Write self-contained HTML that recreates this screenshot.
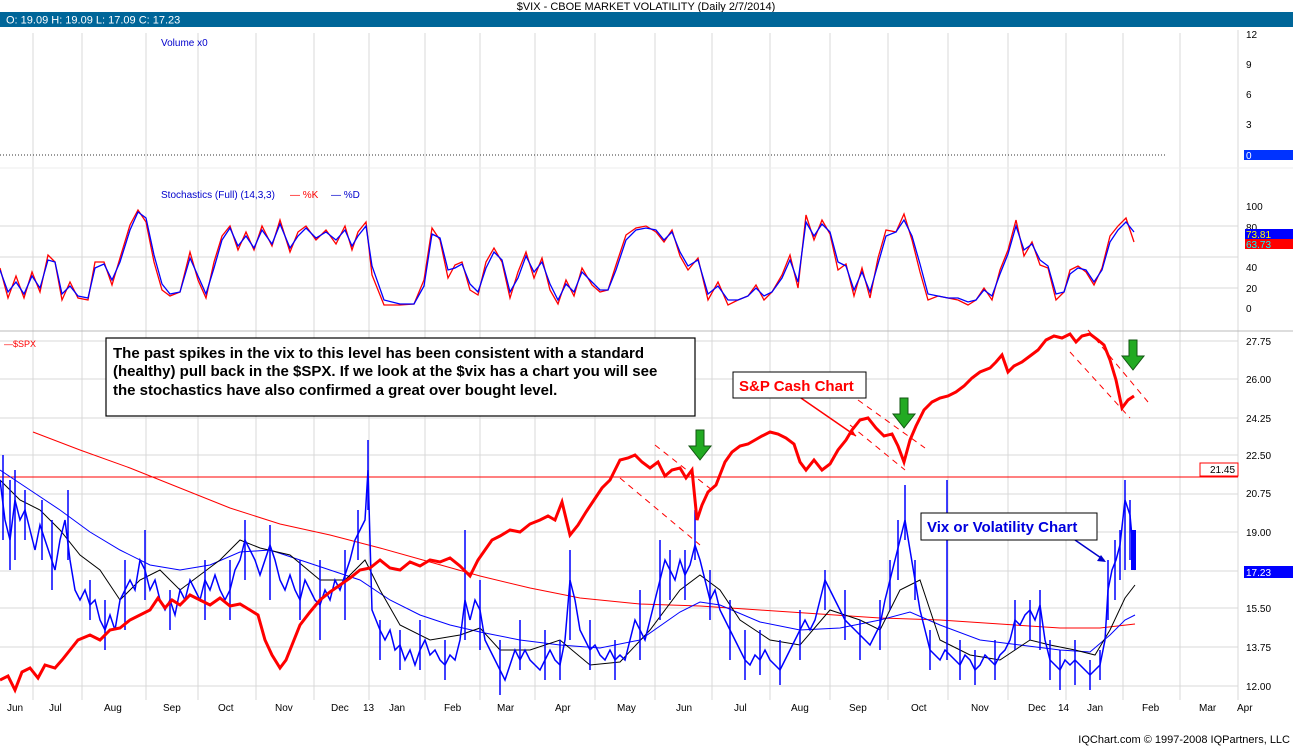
<!DOCTYPE html>
<html><head><meta charset="utf-8"><style>
body{margin:0;background:#fff;width:1293px;height:748px;overflow:hidden;font-family:"Liberation Sans",Arial,sans-serif}
svg{position:absolute;left:0;top:0}
</style></head><body>
<svg width="1293" height="748" viewBox="0 0 1293 748" font-family="Liberation Sans, Arial, sans-serif">
<rect width="1293" height="748" fill="#fff"/>
<text x="646" y="10" font-size="11" text-anchor="middle" fill="#000">$VIX - CBOE MARKET VOLATILITY (Daily 2/7/2014)</text>
<rect x="0" y="12" width="1293" height="15" fill="#006699"/>
<text x="6" y="23.5" font-size="11" fill="#fff">O: 19.09  H: 19.09  L: 17.09  C: 17.23</text>
<!-- vertical grid -->
<g stroke="#d8d8d8" stroke-width="1">
<line x1="33" y1="33" x2="33" y2="700"/><line x1="82" y1="33" x2="82" y2="700"/><line x1="146" y1="33" x2="146" y2="700"/><line x1="198" y1="33" x2="198" y2="700"/><line x1="256" y1="33" x2="256" y2="700"/><line x1="314" y1="33" x2="314" y2="700"/><line x1="369" y1="33" x2="369" y2="700"/><line x1="425" y1="33" x2="425" y2="700"/><line x1="480" y1="33" x2="480" y2="700"/><line x1="535" y1="33" x2="535" y2="700"/><line x1="595" y1="33" x2="595" y2="700"/><line x1="655" y1="33" x2="655" y2="700"/><line x1="712" y1="33" x2="712" y2="700"/><line x1="770" y1="33" x2="770" y2="700"/><line x1="830" y1="33" x2="830" y2="700"/><line x1="888" y1="33" x2="888" y2="700"/><line x1="948" y1="33" x2="948" y2="700"/><line x1="1008" y1="33" x2="1008" y2="700"/><line x1="1066" y1="33" x2="1066" y2="700"/><line x1="1123" y1="33" x2="1123" y2="700"/><line x1="1180" y1="33" x2="1180" y2="700"/>
<line x1="1238" y1="30" x2="1238" y2="700"/>
<line x1="0" y1="226" x2="1238" y2="226"/><line x1="0" y1="257" x2="1238" y2="257"/><line x1="0" y1="288" x2="1238" y2="288"/>
<line x1="0" y1="341" x2="1238" y2="341"/><line x1="0" y1="379" x2="1238" y2="379"/><line x1="0" y1="418" x2="1238" y2="418"/><line x1="0" y1="455" x2="1238" y2="455"/><line x1="0" y1="494" x2="1238" y2="494"/><line x1="0" y1="532" x2="1238" y2="532"/><line x1="0" y1="571" x2="1238" y2="571"/><line x1="0" y1="608" x2="1238" y2="608"/><line x1="0" y1="647" x2="1238" y2="647"/><line x1="0" y1="686" x2="1238" y2="686"/>
</g>
<line x1="0" y1="331" x2="1293" y2="331" stroke="#bbb"/>
<line x1="0" y1="168" x2="1293" y2="168" stroke="#eee"/>
<!-- volume panel -->
<text x="161" y="46" font-size="10" fill="#0000cc">Volume x0</text>
<line x1="0" y1="155" x2="1165" y2="155" stroke="#333" stroke-dasharray="1,2"/>
<g font-size="10" fill="#000"><text x="1246" y="38">12</text><text x="1246" y="68">9</text><text x="1246" y="98">6</text><text x="1246" y="128">3</text></g>
<rect x="1244" y="150" width="49" height="10" fill="#0033ff"/><text x="1246" y="159" font-size="10" fill="#fff">0</text>
<!-- stochastics -->
<text x="161" y="198" font-size="10" fill="#0000cc">Stochastics (Full) (14,3,3)</text>
<text x="290" y="198" font-size="10" fill="#ff0000">— %K</text><text x="331" y="198" font-size="10" fill="#0000cc">— %D</text>
<g font-size="10" fill="#000"><text x="1246" y="210">100</text><text x="1246" y="231">80</text><text x="1246" y="271">40</text><text x="1246" y="292">20</text><text x="1246" y="312">0</text></g>
<rect x="1245" y="229" width="48" height="10" fill="#0000ff"/><text x="1246" y="238" font-size="10" fill="#ffff00">73.81</text>
<rect x="1245" y="239" width="48" height="10" fill="#ff0000"/><text x="1246" y="248" font-size="10" fill="#00ffff">63.73</text>
<polyline fill="none" stroke="#ff0000" stroke-width="1.3" points="0,268 8,298 16,276 24,298 32,272 40,292 48,255 55,262 62,300 70,282 78,298 88,300 95,262 104,262 112,285 120,258 130,225 138,210 146,222 154,262 162,290 170,296 180,292 190,252 198,280 206,298 214,262 222,236 230,226 238,250 246,232 254,250 262,226 272,246 280,220 290,252 298,232 306,226 316,240 326,230 336,244 345,226 352,250 358,232 366,222 372,275 384,305 400,305 414,304 424,280 432,228 440,240 448,278 455,265 462,262 470,290 478,295 486,262 494,248 502,262 510,298 518,272 526,252 534,278 542,258 550,290 558,304 566,280 574,296 582,268 592,285 600,292 608,290 616,265 626,235 636,228 646,226 656,232 664,242 672,230 680,256 688,270 698,258 708,300 718,282 728,305 738,300 748,296 756,285 764,300 772,292 782,275 790,255 798,288 806,215 814,240 822,220 830,234 838,270 846,264 854,296 862,268 870,298 878,258 886,230 896,232 904,214 912,240 920,272 928,300 938,296 948,298 958,300 968,305 976,300 984,288 992,300 1000,270 1008,250 1016,220 1024,256 1032,242 1040,265 1048,268 1056,300 1064,292 1070,270 1078,266 1086,272 1094,285 1102,268 1110,236 1118,226 1126,218 1134,242"/>
<polyline fill="none" stroke="#0000ff" stroke-width="1.3" points="0,270 8,292 16,282 24,294 32,276 40,288 48,260 55,262 62,294 70,286 78,296 88,298 95,268 104,264 112,280 120,262 130,230 138,212 146,218 154,255 162,284 170,294 180,292 190,258 198,276 206,294 214,268 222,240 230,228 238,246 246,236 254,248 262,230 272,244 280,224 290,248 298,236 306,228 316,238 326,232 336,240 345,230 352,246 358,236 366,226 372,266 384,300 400,304 414,304 424,286 432,234 440,238 448,270 455,268 462,264 470,284 478,292 486,268 494,252 502,260 510,292 518,278 526,256 534,272 542,262 550,284 558,300 566,284 574,292 582,272 592,282 600,290 608,290 616,270 626,240 636,230 646,228 656,230 664,240 672,232 680,252 688,266 698,260 708,294 718,286 728,300 738,300 748,296 756,288 764,296 772,292 782,278 790,260 798,282 806,222 814,236 822,224 830,232 838,262 846,266 854,290 862,272 870,292 878,264 886,236 896,232 904,220 912,236 920,264 928,294 938,296 948,298 958,298 968,302 976,300 984,290 992,296 1000,274 1008,254 1016,226 1024,250 1032,244 1040,260 1048,266 1056,294 1064,292 1070,274 1078,268 1086,270 1094,282 1102,270 1110,242 1118,230 1126,222 1134,232"/>
<!-- main panel -->
<text x="4" y="347" font-size="9" fill="#ff0000">—$SPX</text>
<g font-size="10" fill="#000"><text x="1246" y="345">27.75</text><text x="1246" y="383">26.00</text><text x="1246" y="422">24.25</text><text x="1246" y="459">22.50</text><text x="1246" y="497">20.75</text><text x="1246" y="536">19.00</text><text x="1246" y="612">15.50</text><text x="1246" y="651">13.75</text><text x="1246" y="690">12.00</text></g>
<line x1="0" y1="477" x2="1238" y2="477" stroke="#ff0000" stroke-width="1"/>
<rect x="1200" y="463" width="38" height="13" fill="#fff" stroke="#ff0000"/><text x="1210" y="473" font-size="10" fill="#000">21.45</text>
<rect x="1244" y="566" width="49" height="12" fill="#0000ff"/><text x="1246" y="576" font-size="10" fill="#fff">17.23</text>
<!-- 200MA -->
<polyline fill="none" stroke="#ff0000" stroke-width="1" points="33,432 80,450 130,468 180,488 230,508 280,524 330,535 380,548 430,562 480,576 530,588 580,598 640,604 700,606 760,610 820,614 880,618 940,620 1000,624 1060,628 1100,628 1135,624"/>
<!-- 50MA blue -->
<polyline fill="none" stroke="#0000ff" stroke-width="1" points="0,470 30,490 60,510 90,532 120,550 150,565 180,570 210,565 240,552 270,550 300,560 330,570 360,580 390,600 420,615 450,625 480,632 520,640 560,645 600,648 640,640 680,612 700,602 720,605 760,622 800,630 840,628 880,620 910,612 940,625 980,640 1020,645 1060,650 1090,652 1110,635 1125,620 1135,615"/>
<!-- 20MA black -->
<polyline fill="none" stroke="#000" stroke-width="1" points="0,480 20,500 40,510 60,530 80,555 100,570 120,600 140,580 160,570 180,590 200,575 220,560 240,540 260,548 290,555 320,580 345,580 365,560 380,590 400,625 430,640 460,635 480,628 500,650 530,650 560,640 590,665 620,662 650,630 680,590 700,575 720,590 740,620 770,640 800,645 830,610 860,620 880,630 900,590 920,580 940,640 970,655 1000,660 1030,640 1050,645 1075,650 1095,655 1110,630 1125,598 1135,585"/>
<!-- VIX candles approx -->
<g stroke="#0000ff" stroke-width="1.5">
<line x1="3" y1="455" x2="3" y2="540"/><line x1="10" y1="480" x2="10" y2="570"/><line x1="15" y1="470" x2="15" y2="560"/><line x1="25" y1="490" x2="25" y2="540"/><line x1="42" y1="500" x2="42" y2="560"/><line x1="52" y1="520" x2="52" y2="590"/><line x1="68" y1="490" x2="68" y2="560"/><line x1="90" y1="580" x2="90" y2="620"/><line x1="105" y1="600" x2="105" y2="650"/><line x1="125" y1="560" x2="125" y2="630"/><line x1="145" y1="530" x2="145" y2="600"/><line x1="170" y1="590" x2="170" y2="630"/><line x1="205" y1="560" x2="205" y2="620"/><line x1="230" y1="560" x2="230" y2="620"/><line x1="245" y1="520" x2="245" y2="580"/><line x1="270" y1="525" x2="270" y2="600"/><line x1="300" y1="560" x2="300" y2="620"/><line x1="320" y1="560" x2="320" y2="640"/><line x1="345" y1="550" x2="345" y2="620"/><line x1="358" y1="510" x2="358" y2="560"/><line x1="368" y1="440" x2="368" y2="510"/><line x1="380" y1="620" x2="380" y2="660"/><line x1="400" y1="630" x2="400" y2="670"/><line x1="420" y1="620" x2="420" y2="670"/><line x1="445" y1="640" x2="445" y2="680"/><line x1="465" y1="530" x2="465" y2="640"/><line x1="480" y1="580" x2="480" y2="650"/><line x1="500" y1="640" x2="500" y2="695"/><line x1="520" y1="620" x2="520" y2="670"/><line x1="545" y1="630" x2="545" y2="680"/><line x1="560" y1="640" x2="560" y2="680"/><line x1="570" y1="550" x2="570" y2="640"/><line x1="590" y1="620" x2="590" y2="670"/><line x1="615" y1="640" x2="615" y2="680"/><line x1="640" y1="590" x2="640" y2="660"/><line x1="660" y1="540" x2="660" y2="620"/><line x1="670" y1="550" x2="670" y2="600"/><line x1="685" y1="550" x2="685" y2="600"/><line x1="695" y1="510" x2="695" y2="560"/><line x1="710" y1="570" x2="710" y2="620"/><line x1="730" y1="600" x2="730" y2="660"/><line x1="745" y1="630" x2="745" y2="680"/><line x1="760" y1="630" x2="760" y2="675"/><line x1="780" y1="640" x2="780" y2="685"/><line x1="800" y1="610" x2="800" y2="660"/><line x1="825" y1="570" x2="825" y2="610"/><line x1="845" y1="590" x2="845" y2="640"/><line x1="860" y1="620" x2="860" y2="660"/><line x1="880" y1="600" x2="880" y2="650"/><line x1="890" y1="560" x2="890" y2="610"/><line x1="898" y1="520" x2="898" y2="580"/><line x1="905" y1="485" x2="905" y2="540"/><line x1="915" y1="560" x2="915" y2="600"/><line x1="930" y1="630" x2="930" y2="670"/><line x1="947" y1="480" x2="947" y2="660"/><line x1="960" y1="640" x2="960" y2="680"/><line x1="975" y1="650" x2="975" y2="685"/><line x1="995" y1="640" x2="995" y2="680"/><line x1="1015" y1="600" x2="1015" y2="650"/><line x1="1030" y1="600" x2="1030" y2="640"/><line x1="1040" y1="590" x2="1040" y2="650"/><line x1="1050" y1="640" x2="1050" y2="680"/><line x1="1060" y1="650" x2="1060" y2="690"/><line x1="1075" y1="640" x2="1075" y2="685"/><line x1="1090" y1="660" x2="1090" y2="690"/><line x1="1100" y1="650" x2="1100" y2="680"/><line x1="1108" y1="560" x2="1108" y2="620"/><line x1="1115" y1="540" x2="1115" y2="600"/><line x1="1120" y1="530" x2="1120" y2="580"/><line x1="1125" y1="480" x2="1125" y2="570"/><line x1="1130" y1="500" x2="1130" y2="560"/>
</g>
<rect x="1131" y="530" width="5" height="40" fill="#0000ff"/>
<polyline fill="none" stroke="#0000ff" stroke-width="1.5" points="0,480 5,520 10,540 15,500 20,520 25,510 30,530 35,550 40,525 45,540 50,555 55,570 60,540 65,520 70,560 75,590 80,600 85,590 90,605 95,600 100,620 105,630 110,615 115,630 120,600 125,590 130,580 135,590 140,560 145,570 150,590 155,580 160,600 165,610 170,600 175,615 180,590 185,600 190,580 195,590 200,600 205,580 210,590 215,575 220,590 225,600 230,590 235,570 240,560 245,540 250,550 255,560 260,575 265,560 270,545 275,560 280,580 285,590 290,575 295,590 300,600 305,580 310,590 315,600 320,605 325,590 330,600 335,580 340,590 345,575 350,560 355,540 360,530 365,520 368,470 372,610 380,630 385,640 390,630 395,650 400,645 405,660 410,650 415,665 420,650 425,640 430,655 435,650 440,660 445,665 450,655 455,660 460,640 465,600 470,620 475,600 480,610 485,640 490,650 495,660 500,670 505,680 510,665 515,650 520,660 525,650 530,660 535,665 540,670 545,660 550,650 555,660 560,665 565,640 570,580 575,600 580,630 585,640 590,650 595,645 600,655 605,660 610,650 615,660 620,655 625,660 630,640 635,620 640,630 645,640 650,620 655,600 660,580 665,560 670,570 675,580 680,560 685,575 690,565 695,545 700,560 705,580 710,600 715,590 720,610 725,620 730,630 735,640 740,650 745,660 750,665 755,655 760,660 765,650 770,660 775,665 780,670 785,660 790,650 795,640 800,630 805,620 810,630 815,620 820,600 825,580 830,590 835,600 840,610 845,620 850,625 855,630 860,635 865,640 870,645 875,635 880,625 885,600 890,580 895,560 900,540 905,520 910,550 915,580 920,610 925,630 930,650 935,655 940,660 945,650 950,655 955,660 960,665 965,655 970,660 975,670 980,665 985,655 990,660 995,665 1000,655 1005,650 1010,640 1015,620 1020,625 1025,615 1030,610 1035,620 1040,605 1045,640 1050,660 1055,665 1060,670 1065,660 1070,665 1075,660 1080,665 1085,670 1090,675 1095,670 1100,665 1105,640 1108,590 1112,570 1116,560 1120,545 1125,500 1130,515 1135,570"/>
<!-- SPX -->
<polyline fill="none" stroke="#ff0000" stroke-width="3" points="0,680 8,676 15,690 22,672 30,668 38,678 45,665 55,668 62,660 70,650 78,640 90,635 100,640 110,630 120,628 130,620 140,615 150,610 158,598 165,608 172,600 180,605 190,595 200,600 210,605 220,598 230,606 240,604 250,610 258,615 265,640 272,655 280,668 286,660 292,645 300,625 310,612 320,600 330,592 340,585 350,578 360,570 370,568 380,560 390,568 400,570 410,562 420,566 430,560 440,562 450,558 460,566 470,576 478,560 485,550 492,540 500,536 510,530 520,532 530,524 540,520 548,516 555,520 562,502 570,535 578,525 586,512 594,500 602,488 610,480 620,460 628,458 635,455 642,462 650,468 658,462 665,476 672,470 680,468 686,478 692,470 697,520 702,505 708,492 716,485 725,462 732,452 740,446 748,444 755,440 762,436 770,432 778,434 786,438 794,444 800,462 806,470 814,460 822,470 830,464 838,450 846,440 852,430 860,420 868,418 876,428 884,436 892,434 898,446 904,462 910,440 916,426 924,410 932,402 940,398 948,396 956,392 964,386 972,378 980,372 990,368 996,362 1002,355 1008,372 1014,366 1022,362 1030,356 1038,350 1046,340 1054,336 1062,338 1070,334 1076,342 1082,336 1090,334 1098,340 1104,345 1110,360 1116,380 1122,408 1128,400 1134,396"/>
<!-- channels -->
<g stroke="#ff0000" stroke-dasharray="6,5" fill="none">
<line x1="655" y1="445" x2="712" y2="490"/><line x1="620" y1="478" x2="700" y2="545"/>
<line x1="858" y1="400" x2="925" y2="448"/><line x1="850" y1="425" x2="905" y2="470"/>
<line x1="1088" y1="330" x2="1148" y2="402"/><line x1="1070" y1="352" x2="1130" y2="418"/>
</g>
<!-- arrows -->
<g fill="#22aa22" stroke="#115511" stroke-width="1">
<path d="M696,430 h8 v16 h7 l-11,14 l-11,-14 h7z"/>
<path d="M900,398 h8 v16 h7 l-11,14 l-11,-14 h7z"/>
<path d="M1129,340 h8 v16 h7 l-11,14 l-11,-14 h7z"/>
</g>
<line x1="798" y1="396" x2="856" y2="436" stroke="#ff0000" stroke-width="1.5"/><path d="M856,436 l-8,-2 l4,-5z" fill="#ff0000"/>
<line x1="1075" y1="540" x2="1104" y2="560" stroke="#0000cc" stroke-width="1.5"/><path d="M1106,562 l-9,-1 l4,-6z" fill="#0000cc"/>
<!-- text boxes -->
<rect x="106" y="338" width="589" height="78" fill="#fff" stroke="#000" stroke-width="1.2"/>
<g font-size="15" fill="#000" font-weight="bold"><text x="113" y="358">The past spikes in the vix to this level has been consistent with a standard</text><text x="113" y="376">(healthy) pull back in the $SPX. If we look at the $vix has a chart you will see</text><text x="113" y="395">the stochastics have also confirmed a great over bought level.</text></g>
<rect x="733" y="372" width="133" height="26" fill="#fff" stroke="#000"/>
<text x="739" y="391" font-size="15" fill="#ff0000" font-weight="bold">S&amp;P Cash Chart</text>
<rect x="921" y="513" width="176" height="27" fill="#fff" stroke="#000"/>
<text x="927" y="532" font-size="15" fill="#0000dd" font-weight="bold">Vix or Volatility Chart</text>
<!-- x labels -->
<g font-size="10" fill="#000"><text x="7" y="711">Jun</text><text x="49" y="711">Jul</text><text x="104" y="711">Aug</text><text x="163" y="711">Sep</text><text x="218" y="711">Oct</text><text x="275" y="711">Nov</text><text x="331" y="711">Dec</text><text x="363" y="711">13</text><text x="389" y="711">Jan</text><text x="444" y="711">Feb</text><text x="497" y="711">Mar</text><text x="555" y="711">Apr</text><text x="617" y="711">May</text><text x="676" y="711">Jun</text><text x="734" y="711">Jul</text><text x="791" y="711">Aug</text><text x="849" y="711">Sep</text><text x="911" y="711">Oct</text><text x="971" y="711">Nov</text><text x="1028" y="711">Dec</text><text x="1058" y="711">14</text><text x="1087" y="711">Jan</text><text x="1142" y="711">Feb</text><text x="1199" y="711">Mar</text><text x="1237" y="711">Apr</text></g>
<text x="1290" y="743" font-size="11" text-anchor="end" fill="#000">IQChart.com © 1997-2008 IQPartners, LLC</text>
</svg>
</body></html>
